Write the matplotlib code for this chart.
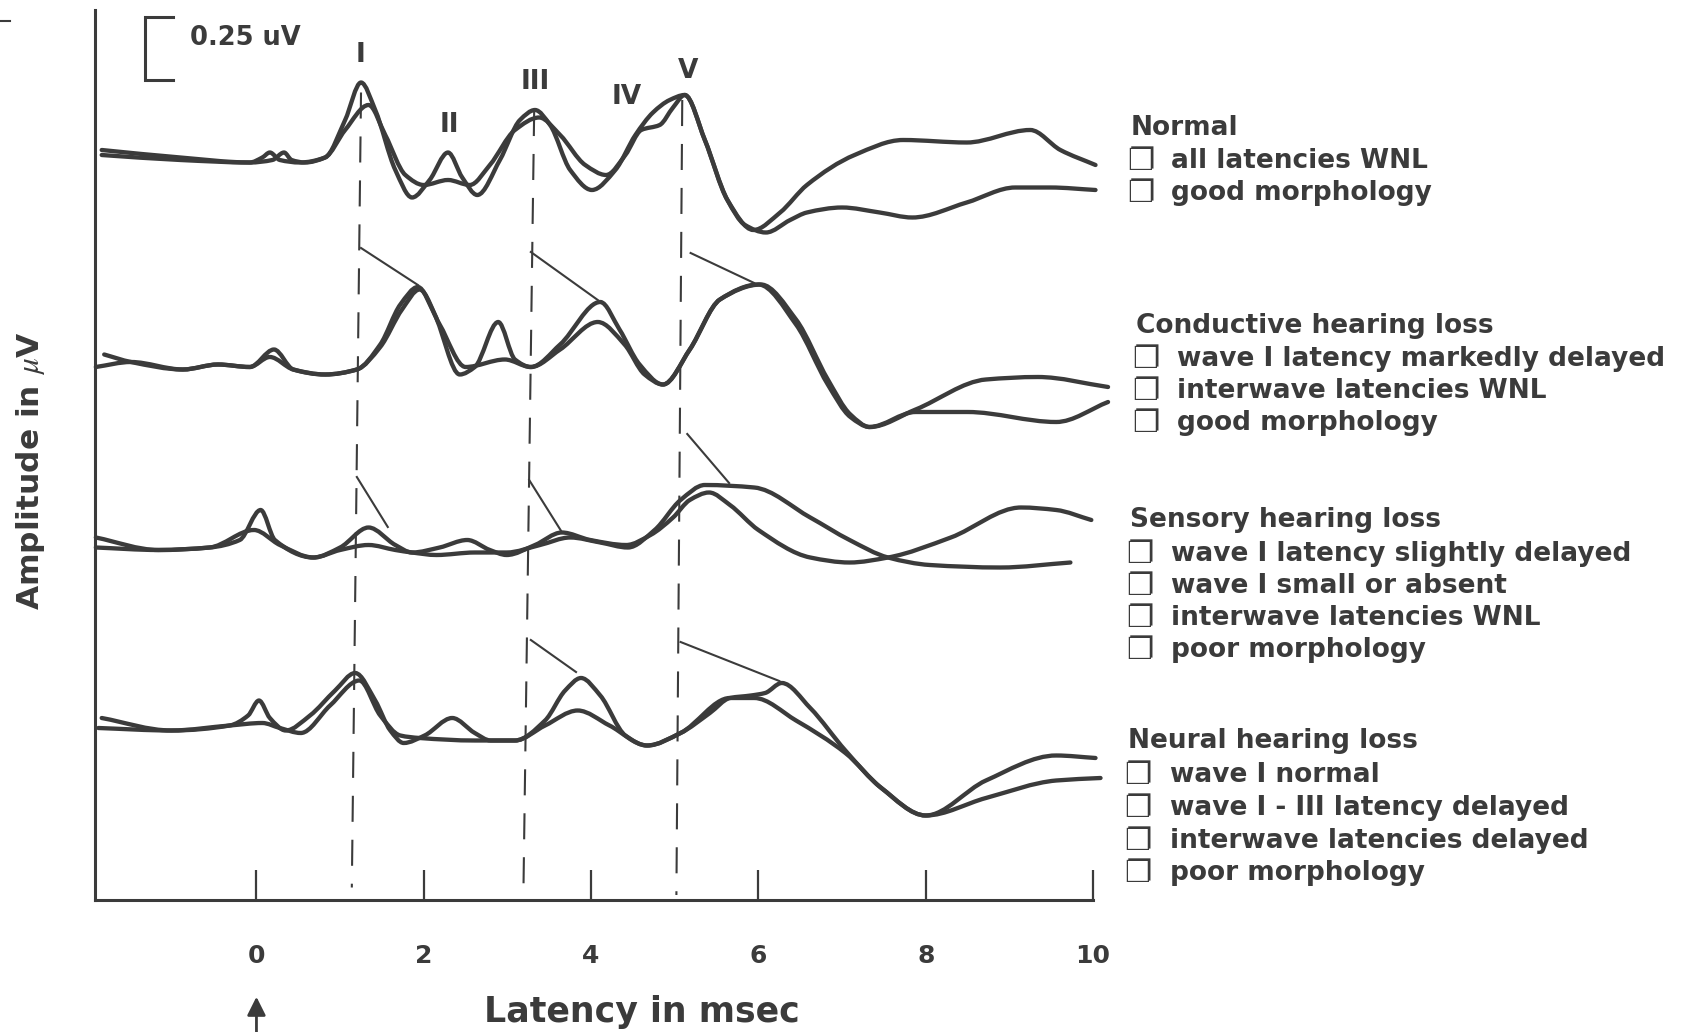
import numpy as np
import matplotlib
matplotlib.use('Agg')
import matplotlib.pyplot as plt
from matplotlib.path import Path
from matplotlib.patches import PathPatch

plt.rcParams['font.family'] = ['DejaVu Sans']
plt.rcParams['mathtext.fontset'] = 'stix'

INK = '#3b3b3b'
W, H = 1690, 1032

# ---- ABR traces: latency (msec) and amplitude (uV, relative to trace baseline) ----
normal_a_x = [-1.85, -0.91, -0.08, 0.07, 0.16, 0.28, 0.52, 0.82, 1.06, 1.25, 1.42, 1.66, 1.86, 2.07, 2.29,
              2.46, 2.64, 2.91, 3.15, 3.33, 3.51, 3.75, 4.01, 4.29, 4.53, 4.74, 4.94, 5.12, 5.36, 5.63,
              5.94, 6.26, 6.58, 7.15, 7.73, 8.49, 9.25, 9.61, 10.03]
normal_a_y = [0.02, -0.01, -0.03, -0.01, 0.01, -0.02, -0.03, -0.01, 0.14, 0.29, 0.18, -0.06, -0.17, -0.10, 0.01,
              -0.09, -0.16, -0.02, 0.14, 0.18, 0.12, -0.06, -0.14, -0.06, 0.08, 0.17, 0.22, 0.24, 0.06, -0.18,
              -0.30, -0.23, -0.12, 0.00, 0.06, 0.05, 0.10, 0.02, -0.04]
normal_b_x = [-1.85, -0.91, -0.08, 0.19, 0.33, 0.42, 0.58, 0.82, 1.06, 1.34, 1.54, 1.78, 2.00, 2.29, 2.55,
              2.79, 3.09, 3.38, 3.63, 3.93, 4.18, 4.41, 4.60, 4.82, 4.98, 5.12, 5.36, 5.63, 5.84, 6.09,
              6.38, 6.58, 7.00, 7.45, 7.84, 8.49, 9.07, 9.49, 10.03]
normal_b_y = [0.00, -0.02, -0.03, -0.02, 0.01, -0.02, -0.03, -0.01, 0.10, 0.20, 0.08, -0.08, -0.12, -0.10, -0.12,
              -0.04, 0.10, 0.15, 0.08, -0.04, -0.08, 0.00, 0.10, 0.12, 0.19, 0.24, 0.06, -0.18, -0.28, -0.31,
              -0.26, -0.23, -0.21, -0.23, -0.25, -0.19, -0.13, -0.13, -0.14]

cond_a_x = [-1.82, -1.50, -0.88, -0.46, -0.08, 0.21, 0.44, 0.82, 1.20, 1.48, 1.72, 1.93, 2.13, 2.43, 2.61,
            2.89, 3.09, 3.28, 3.63, 4.11, 4.34, 4.58, 4.86, 5.18, 5.54, 6.03, 6.45, 6.83, 7.10, 7.33,
            7.88, 8.72, 9.34, 10.18]
cond_a_y = [0.05, 0.02, -0.01, 0.01, 0.00, 0.07, -0.01, -0.03, -0.01, 0.09, 0.25, 0.32, 0.21, -0.03, 0.00,
            0.18, 0.03, 0.00, 0.09, 0.26, 0.15, 0.01, -0.07, 0.07, 0.27, 0.33, 0.19, -0.05, -0.19, -0.24,
            -0.17, -0.05, -0.04, -0.08]
cond_b_x = [-1.92, -1.50, -0.88, -0.46, -0.08, 0.16, 0.44, 0.82, 1.20, 1.48, 1.74, 1.95, 2.19, 2.50, 2.97,
            3.28, 3.63, 4.08, 4.40, 4.64, 4.86, 5.18, 5.54, 6.00, 6.45, 6.83, 7.10, 7.33, 7.88, 8.50,
            9.56, 10.18]
cond_b_y = [0.00, 0.02, -0.01, 0.01, 0.00, 0.04, -0.01, -0.03, -0.01, 0.08, 0.23, 0.31, 0.17, 0.00, 0.03,
            0.00, 0.07, 0.18, 0.09, -0.03, -0.07, 0.07, 0.27, 0.33, 0.17, -0.07, -0.20, -0.24, -0.18, -0.18,
            -0.22, -0.14]

sens_a_x = [-1.92, -1.17, -0.56, -0.20, 0.05, 0.22, 0.68, 1.00, 1.34, 1.66, 1.86, 2.19, 2.52, 2.79, 2.99,
            3.33, 3.65, 3.99, 4.42, 4.71, 4.98, 5.18, 5.41, 5.66, 6.00, 6.62, 7.09, 7.55, 8.30, 9.14,
            9.56, 9.98]
sens_a_y = [0.05, 0.00, 0.01, 0.04, 0.16, 0.04, -0.03, 0.01, 0.09, 0.02, -0.01, 0.01, 0.04, 0.00, -0.02,
            0.02, 0.07, 0.04, 0.02, 0.06, 0.13, 0.20, 0.23, 0.18, 0.08, -0.03, -0.05, -0.03, 0.05, 0.17,
            0.16, 0.12]
sens_b_x = [-1.92, -1.17, -0.56, -0.03, 0.28, 0.68, 1.00, 1.34, 1.66, 1.86, 2.15, 2.61, 2.99, 3.39, 3.75,
            4.11, 4.44, 4.76, 5.07, 5.36, 5.95, 6.62, 7.09, 7.55, 8.05, 8.89, 9.73]
sens_b_y = [0.01, 0.00, 0.01, 0.08, 0.02, -0.03, 0.00, 0.02, 0.00, -0.01, -0.02, -0.01, -0.01, 0.02, 0.05,
            0.03, 0.01, 0.08, 0.20, 0.26, 0.25, 0.13, 0.04, -0.03, -0.06, -0.07, -0.05]

neur_a_x = [-1.85, -1.02, -0.32, -0.10, 0.03, 0.16, 0.35, 0.64, 0.94, 1.18, 1.42, 1.60, 1.76, 2.01, 2.34,
            2.61, 2.80, 3.09, 3.45, 3.69, 3.88, 4.11, 4.41, 4.67, 5.07, 5.42, 5.66, 5.91, 6.08, 6.28,
            6.62, 7.04, 7.47, 8.00, 8.72, 9.56, 10.03]
neur_a_y = [0.04, -0.01, 0.01, 0.05, 0.11, 0.04, -0.01, 0.05, 0.15, 0.22, 0.11, -0.01, -0.06, -0.03, 0.04,
            -0.02, -0.05, -0.05, 0.03, 0.15, 0.20, 0.13, -0.03, -0.07, -0.02, 0.06, 0.12, 0.13, 0.14, 0.18,
            0.08, -0.09, -0.24, -0.35, -0.21, -0.11, -0.12]
neur_b_x = [-1.89, -1.02, -0.32, 0.07, 0.28, 0.53, 0.88, 1.23, 1.48, 1.72, 1.95, 2.61, 3.09, 3.45, 3.84,
            4.22, 4.67, 5.07, 5.66, 5.95, 6.45, 7.04, 7.47, 8.00, 8.72, 9.56, 10.09]
neur_b_y = [0.00, -0.01, 0.01, 0.02, 0.00, -0.02, 0.09, 0.19, 0.05, -0.03, -0.04, -0.05, -0.05, 0.01, 0.07,
            0.01, -0.07, -0.02, 0.12, 0.12, 0.03, -0.10, -0.24, -0.35, -0.28, -0.21, -0.20]

# baseline of each pair of traces (uV above the latency axis)
baselines = [2.98, 2.132, 1.40, 0.688]

# wave I / III / V reference latencies: (top x, top y, bottom x, bottom y)
wave_lines = [(1.25, 3.23, 1.14, 0.05), (3.32, 3.16, 3.19, 0.0), (5.09, 3.20, 5.02, 0.02)]

# latency shift markers: (x0, y0, x1, y1)
shift_marks = [(1.25, 2.608, 1.93, 2.46), (3.28, 2.592, 4.08, 2.40), (5.19, 2.588, 5.95, 2.468),
               (1.20, 1.692, 1.57, 1.492), (3.26, 1.68, 3.65, 1.472), (5.15, 1.864, 5.65, 1.668),
               (3.28, 1.04, 3.82, 0.912), (5.07, 1.032, 6.25, 0.876)]

calib_uv = 0.25
tick_vals = [0, 2, 4, 6, 8, 10]
tick_labels = ['0', '2', '4', '6', '8', '10']

groups = [
    ('Normal', ['all latencies WNL', 'good morphology']),
    ('Conductive hearing loss', ['wave I latency markedly delayed', 'interwave latencies WNL',
                                 'good morphology']),
    ('Sensory hearing loss', ['wave I latency slightly delayed', 'wave I small or absent',
                              'interwave latencies WNL', 'poor morphology']),
    ('Neural hearing loss', ['wave I normal', 'wave I - III latency delayed', 'interwave latencies delayed',
                             'poor morphology']),
]
# layout of the notes in pixels: x of box, x of text, baselines
group_pos = [
    (1131, 1171, [135, 168, 200]),
    (1136, 1177, [333, 366, 398, 430]),
    (1130, 1171, [527, 561, 593, 625, 657]),
    (1128, 1170, [748, 782, 815, 848, 880]),
]

wave_names = ['I', 'II', 'III', 'IV', 'V']
wave_name_pos = [(361, 55), (449, 125), (535, 82), (627, 97), (688, 71)]


def smooth_path(x, y):
    # monotone cubic through the read points, drawn as bezier segments
    x = np.asarray(x, float)
    y = np.asarray(y, float)
    h = np.diff(x)
    d = np.diff(y) / h
    m = np.zeros_like(y)
    m[0], m[-1] = d[0], d[-1]
    for i in range(1, len(x) - 1):
        if d[i - 1] * d[i] > 0:
            w1 = 2 * h[i] + h[i - 1]
            w2 = h[i] + 2 * h[i - 1]
            m[i] = (w1 + w2) / (w1 / d[i - 1] + w2 / d[i])
    verts = [(x[0], y[0])]
    codes = [Path.MOVETO]
    for i in range(len(x) - 1):
        verts += [(x[i] + h[i] / 3, y[i] + m[i] * h[i] / 3),
                  (x[i + 1] - h[i] / 3, y[i + 1] - m[i + 1] * h[i] / 3),
                  (x[i + 1], y[i + 1])]
        codes += [Path.CURVE4] * 3
    return Path(verts, codes)


def fx(px):
    return px / W


def fy(py):
    return 1 - py / H


fig = plt.figure(figsize=(16.9, 10.32), dpi=100)
ax = fig.add_axes([95 / W, 132 / H, 998 / W, 890 / H])
ax.set_xlim(-1.93, 10)
ax.set_ylim(0, 3.56)

for s in ['top', 'right']:
    ax.spines[s].set_visible(False)
for s in ['left', 'bottom']:
    ax.spines[s].set_linewidth(2.2)
    ax.spines[s].set_color(INK)

ax.set_yticks([])
ax.set_xticks(tick_vals)
ax.set_xticklabels(tick_labels, fontsize=18, fontweight='bold', color=INK)
ax.tick_params(axis='x', direction='in', length=21.5, width=1.6, color=INK, pad=32)

pairs = [(normal_a_x, normal_a_y, normal_b_x, normal_b_y),
         (cond_a_x, cond_a_y, cond_b_x, cond_b_y),
         (sens_a_x, sens_a_y, sens_b_x, sens_b_y),
         (neur_a_x, neur_a_y, neur_b_x, neur_b_y)]
for base, (xa, ya, xb, yb) in zip(baselines, pairs):
    for xs, ys in [(xa, ya), (xb, yb)]:
        p = smooth_path(xs, np.array(ys) + base)
        ax.add_patch(PathPatch(p, fill=False, lw=3.1, ec=INK, clip_on=False,
                               capstyle='round', joinstyle='round', zorder=3))

for x0, y0, x1, y1 in wave_lines:
    ax.plot([x0, x1], [y0, y1], color=INK, lw=1.5, linestyle=(0, (12.5, 8.6)), clip_on=False, zorder=2)

for x0, y0, x1, y1 in shift_marks:
    ax.plot([x0, x1], [y0, y1], color=INK, lw=1.5, clip_on=False, zorder=2)

# 0.25 uV calibration bracket
cal_top = 3.531
ax.plot([-1.0, -1.33, -1.33, -1.0], [cal_top, cal_top, cal_top - calib_uv, cal_top - calib_uv],
        color=INK, lw=2.2, clip_on=False, solid_joinstyle='miter')
fig.text(fx(190), fy(38), '0.25 uV', fontsize=18.5, fontweight='bold', color=INK, va='center', ha='left')

for name, (px, py) in zip(wave_names, wave_name_pos):
    fig.text(fx(px), fy(py), name, fontsize=19, fontweight='bold', color=INK, ha='center', va='center')

# stimulus onset arrow
ax.annotate('', xy=(0, -0.376), xytext=(0, -0.6), annotation_clip=False,
            arrowprops=dict(arrowstyle='-|>', color=INK, lw=2.0, mutation_scale=28))

fig.text(fx(642), fy(1022), 'Latency in msec', fontsize=25, fontweight='bold', color=INK,
         ha='center', va='baseline')
fig.text(fx(31), fy(471), r'Amplitude in $\mu$V', fontsize=22.5, fontweight='bold', color=INK,
         ha='center', va='center', rotation=90)

# small mark at the top-left edge of the scan
fig.add_artist(plt.Line2D([0, fx(10)], [fy(21), fy(21)], color=INK, lw=1.5))

for (title, items), (bx, tx, bl) in zip(groups, group_pos):
    fig.text(fx(bx), fy(bl[0]), title, fontsize=19, fontweight='bold', color=INK, va='baseline')
    for item, b in zip(items, bl[1:]):
        fig.text(fx(bx - 4), fy(b + 2), '\u2750', fontsize=22, color=INK, va='baseline',
                 family=['DejaVu Sans'])
        fig.text(fx(tx), fy(b), item, fontsize=19, fontweight='bold', color=INK, va='baseline')

fig.savefig('out.png', dpi=100)
